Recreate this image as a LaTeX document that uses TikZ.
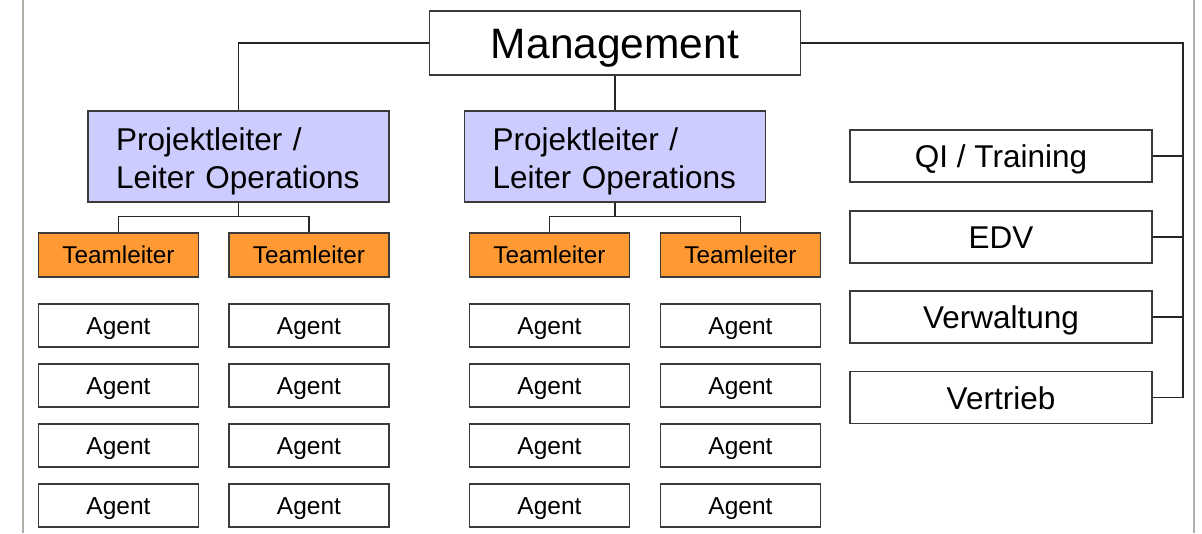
\documentclass[tikz,border=0pt]{standalone}
\usepackage{fontspec}
\setmainfont{Liberation Sans}
\definecolor{lav}{HTML}{CCCCFF}
\definecolor{org}{HTML}{FF9933}
\definecolor{bord}{HTML}{3A3A3A}
\definecolor{edge}{HTML}{B3AFA8}
\begin{document}
\begin{tikzpicture}[x=1pt,y=-1pt,
  box/.style={draw=bord,line width=1.3pt,fill=white,inner sep=0pt,anchor=center,text depth=0pt},
  mgbox/.style={box,minimum width=371pt,minimum height=64pt,text height=31pt,font=\fontsize{42.5}{48}\selectfont},
  plbox/.style={box,fill=lav,minimum width=301pt,minimum height=91pt,text width=245pt,inner xsep=28pt,align=left,text height=12pt,text depth=25pt,font=\fontsize{31.5}{38}\selectfont},
  tlbox/.style={box,fill=org,minimum width=160pt,minimum height=44pt,text height=16pt,font=\fontsize{24.3}{28}\selectfont},
  agbox/.style={box,minimum width=160pt,minimum height=43pt,text height=17.5pt,font=\fontsize{24.5}{28}\selectfont},
  sidebox/.style={box,minimum width=302pt,minimum height=52pt,text height=23pt,font=\fontsize{31.5}{36}\selectfont},
  conn/.style={draw=black!85,line width=1.4pt},
  pageedge/.style={draw=edge,line width=2pt}]
\useasboundingbox (0,0) rectangle (1202,533);
\draw[pageedge] (22.5,0) -- (22.5,533);
\draw[pageedge] (1193.5,0) -- (1193.5,533);

\node[mgbox] (mg) at (615,43) {Management};
\node[plbox] (pl1) at (238.5,156.5) {Projektleiter /\\Leiter Operations};
\node[plbox] (pl2) at (615,156.5) {Projektleiter /\\Leiter Operations};

\node[tlbox] (tl1) at (118.5,255) {Teamleiter};
\node[tlbox] (tl2) at (309,255) {Teamleiter};
\node[tlbox] (tl3) at (549.5,255) {Teamleiter};
\node[tlbox] (tl4) at (740.5,255) {Teamleiter};

\foreach \c/\x in {1/118.5,2/309,3/549.5,4/740.5}{
  \foreach \r/\y in {1/325.5,2/385.5,3/445.5,4/505.5}{
    \node[agbox] (ag\c\r) at (\x,\y) {Agent};
  }
}

\node[sidebox] (qi) at (1001,156) {QI / Training};
\node[sidebox] (edv) at (1001,237) {EDV};
\node[sidebox] (vw) at (1001,317) {Verwaltung};
\node[sidebox] (vt) at (1001,397.5) {Vertrieb};

\coordinate (rail) at (1183,43);

\draw[conn] (mg.west) -| (pl1.north);
\draw[conn] (mg.south) -- (pl2.north);
\draw[conn] (mg.east) -- (rail) |- (vt.east);
\draw[conn] (qi.east) -- (qi.east -| rail);
\draw[conn] (edv.east) -- (edv.east -| rail);
\draw[conn] (vw.east) -- (vw.east -| rail);

\draw[conn] (tl1.north) -- ++(0,-16) -| (tl2.north);
\draw[conn] (pl1.south) -- (pl1.south |- 0,217);
\draw[conn] (tl3.north) -- ++(0,-16) -| (tl4.north);
\draw[conn] (pl2.south) -- (pl2.south |- 0,217);
\end{tikzpicture}
\end{document}
